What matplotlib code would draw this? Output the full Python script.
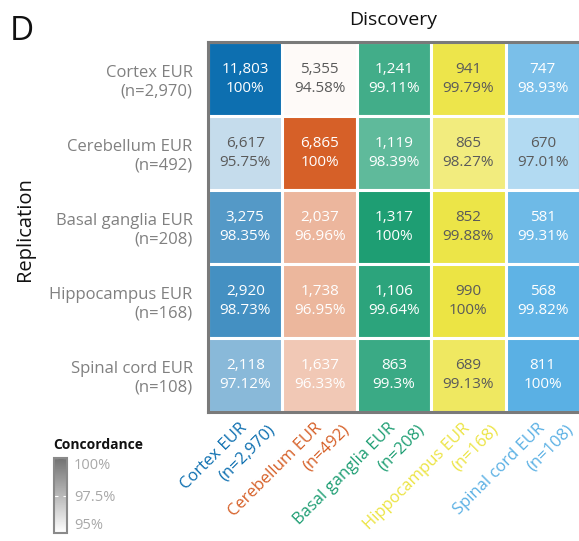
import numpy as np
import matplotlib
matplotlib.use("Agg")
import matplotlib.pyplot as plt
from matplotlib.colors import to_rgb, LinearSegmentedColormap, Normalize
from matplotlib.patches import Rectangle
from matplotlib.colorbar import ColorbarBase

plt.rcParams["font.family"] = ["Open Sans", "DejaVu Sans"]

# Tissues (same order for discovery columns and replication rows)
tissues = ["Cortex EUR", "Cerebellum EUR", "Basal ganglia EUR",
           "Hippocampus EUR", "Spinal cord EUR"]
sample_sizes = ["2,970", "492", "208", "168", "108"]
tissue_colors = ["#0d6fb0", "#d66028", "#1e9e73", "#ece444", "#5ab0e4"]

# Number of shared signals: rows = replication, columns = discovery
shared_counts = [
    [11803, 5355, 1241, 941, 747],
    [6617, 6865, 1119, 865, 670],
    [3275, 2037, 1317, 852, 581],
    [2920, 1738, 1106, 990, 568],
    [2118, 1637, 863, 689, 811],
]
# Direction concordance (%)
concordance = [
    [100, 94.58, 99.11, 99.79, 98.93],
    [95.75, 100, 98.39, 98.27, 97.01],
    [98.35, 96.96, 100, 99.88, 99.31],
    [98.73, 96.95, 99.64, 100, 99.82],
    [97.12, 96.33, 99.3, 99.13, 100],
]

conc_lo, conc_hi = 94.4, 100.0

fig = plt.figure(figsize=(5.79, 5.41), dpi=100)
ax = fig.add_axes([208 / 579, 1 - 412 / 541, 372 / 579, 370 / 541])

n = len(tissues)
for i in range(n):
    for j in range(n):
        v = concordance[i][j]
        a = float(np.clip((v - conc_lo) / (conc_hi - conc_lo), 0, 1))
        base = np.array(to_rgb(tissue_colors[j]))
        rgb = 1 - a * (1 - base)
        ax.add_patch(Rectangle((j - 0.5, i - 0.5), 1, 1, facecolor=rgb,
                               edgecolor="white", linewidth=2.2))
        lum = 255 * (0.2126 * rgb[0] + 0.7152 * rgb[1] + 0.0722 * rgb[2])
        tc = "white" if lum < 209 else "#5a5a5a"
        ax.text(j, i, f"{shared_counts[i][j]:,}\n{v:g}%", ha="center",
                va="center", color=tc, fontsize=11, linespacing=1.3)

ax.set_xlim(-0.5, n - 0.5)
ax.set_ylim(n - 0.5, -0.5)
for s in ax.spines.values():
    s.set_color("#7a7a7a")
    s.set_linewidth(2.2)

labels = [f"{t}\n(n={s})" for t, s in zip(tissues, sample_sizes)]
ax.set_yticks(range(n))
ax.set_yticklabels(labels, fontsize=12, color="#808080", ha="right",
                   multialignment="right", linespacing=1.25)
ax.set_xticks(range(n))
ax.set_xticklabels([])
ax.tick_params(length=0, pad=11)

# Discovery tissue names under the columns, each line set at 45 degrees
for j, (t, s, c) in enumerate(zip(tissues, sample_sizes, tissue_colors)):
    ax.annotate(t, xy=(j, 0), xycoords=("data", "axes fraction"),
                xytext=(-6, -8), textcoords="offset pixels", rotation=45,
                rotation_mode="anchor", ha="right", va="top", color=c,
                fontsize=12, annotation_clip=False)
    ax.annotate(f"(n={s})", xy=(j, 0), xycoords=("data", "axes fraction"),
                xytext=(22, -10), textcoords="offset pixels", rotation=45,
                rotation_mode="anchor", ha="right", va="top", color=c,
                fontsize=12, annotation_clip=False)

fig.text(393 / 579, 1 - 20 / 541, "Discovery", ha="center", va="center",
         fontsize=14, color="#111111")
fig.text(25 / 579, 1 - 229 / 541, "Replication", ha="center", va="center",
         rotation=90, fontsize=14.5, color="#111111")
fig.text(10 / 579, 1 - 32 / 541, "D", ha="left", va="center", fontsize=24,
         color="#111111")

# Concordance legend
fig.text(53 / 579, 1 - 445 / 541, "Concordance", ha="left", va="center",
         fontsize=10, fontweight="bold", color="#111111")
cax = fig.add_axes([54 / 579, 1 - 533 / 541, 13 / 579, 75 / 541])
gray_cmap = LinearSegmentedColormap.from_list("conc", ["#ffffff", "#727272"])
cb = ColorbarBase(cax, cmap=gray_cmap, norm=Normalize(95, 100),
                  ticks=[95, 97.5, 100])
cb.set_ticklabels(["95%", "97.5%", "100%"])
cb.outline.set_edgecolor("#8a8a8a")
cb.outline.set_linewidth(1.5)
cax.tick_params(direction="in", color="white", length=3, labelsize=10.5,
                labelcolor="#a8a8a8", pad=5, left=True)
tl = cax.get_yticklabels()
tl[0].set_verticalalignment("bottom")
tl[-1].set_verticalalignment("top")

fig.savefig("out.png", dpi=100)
